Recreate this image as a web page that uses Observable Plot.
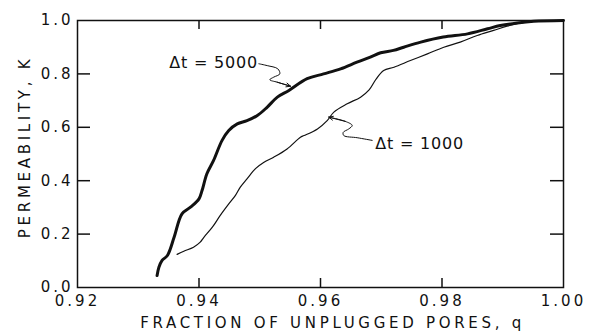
<!DOCTYPE html>
<html>
<head>
<meta charset="utf-8">
<script src="https://cdn.jsdelivr.net/npm/d3@7"></script>
<script src="https://cdn.jsdelivr.net/npm/@observablehq/plot@0.6"></script>
<style>
  html, body { margin: 0; padding: 0; background: #fff; }
  #chart svg { display: block; }
</style>
</head>
<body>
<div id="chart"></div>
<script>
// ---- Data ----
const xTicks = [0.92, 0.94, 0.96, 0.98, 1.00];
const yTicks = [0.0, 0.2, 0.4, 0.6, 0.8, 1.0];
const xTitle = "FRACTION OF UNPLUGGED PORES, q";
const yTitle = "PERMEABILITY, K";

// Δt = 5000 (thick)
const q5000 = [0.9331,0.9334,0.9339,0.9348,0.9359,0.9372,0.9386,0.9400,0.9405,0.9413,0.9424,0.9438,0.9449,0.9463,0.9479,0.9496,0.9512,0.9529,0.9548,0.9578,0.9605,0.9633,0.9660,0.9682,0.9699,0.9720,0.9737,0.9765,0.9802,0.9842,0.9875,0.9896,0.9924,0.9951,1.0];
const k5000 = [0.045,0.076,0.101,0.120,0.188,0.276,0.301,0.332,0.363,0.426,0.476,0.551,0.588,0.613,0.625,0.644,0.675,0.713,0.738,0.782,0.800,0.819,0.844,0.863,0.879,0.888,0.900,0.919,0.938,0.950,0.969,0.981,0.991,0.997,1.0];

// Δt = 1000 (thin)
const q1000 = [0.9364,0.9375,0.9391,0.9402,0.9408,0.9422,0.9435,0.9449,0.9460,0.9468,0.9479,0.9493,0.9507,0.9523,0.9545,0.9567,0.9573,0.9595,0.9611,0.9622,0.9644,0.9666,0.9680,0.9691,0.9704,0.9721,0.9748,0.9776,0.9803,0.9830,0.9858,0.9885,0.9907,0.9929,0.9951,1.0];
const k1000 = [0.124,0.136,0.151,0.170,0.188,0.226,0.270,0.313,0.345,0.376,0.407,0.445,0.469,0.488,0.519,0.563,0.569,0.594,0.625,0.657,0.688,0.713,0.740,0.779,0.813,0.825,0.850,0.875,0.900,0.919,0.944,0.963,0.979,0.991,0.997,1.0];

// Annotation labels and leader lines (data units)
const labels = ["Δt = 5000", "Δt = 1000"];
const labelQ = [0.9497, 0.9690];
const labelK = [0.843, 0.539];
const lead5000Q = [0.94985,0.95123,0.95297,0.95330,0.95231,0.95165,0.95287,0.95506];
const lead5000K = [0.838,0.831,0.819,0.800,0.788,0.778,0.769,0.754];
const lead1000Q = [0.96851,0.96604,0.96384,0.96374,0.96466,0.96522,0.96411,0.96137];
const lead1000K = [0.551,0.561,0.569,0.581,0.594,0.607,0.622,0.638];

// ---- Build tables ----
const s5000 = q5000.map((q, i) => ({q, k: k5000[i]}));
const s1000 = q1000.map((q, i) => ({q, k: k1000[i]}));
const lab5000 = [{t: labels[0], q: labelQ[0], k: labelK[0]}];
const lab1000 = [{t: labels[1], q: labelQ[1], k: labelK[1]}];
const l5000 = lead5000Q.map((q, i) => ({q, k: lead5000K[i]}));
const l1000 = lead1000Q.map((q, i) => ({q, k: lead1000K[i]}));
const lastSeg = (arr) => [{x1: arr[arr.length - 2].q, y1: arr[arr.length - 2].k, x2: arr[arr.length - 1].q, y2: arr[arr.length - 1].k}];

const W = 592, H = 331, mL = 77, mR = 29, mT = 20, mB = 44;
const fw = W - mL - mR, fh = H - mT - mB;
const xDomain = [0.92, 1.00], yDomain = [0, 1];
const font = "DejaVu Sans";
const ink = "#111";
const inner = (arr) => arr.slice(1, -1);
// tick lengths: pixels converted into data units of the opposite scale
const xTickLen = 9 / fh * (yDomain[1] - yDomain[0]);
const yTickLen = 13 / fw * (xDomain[1] - xDomain[0]);

const chart = Plot.plot({
  width: W,
  height: H,
  marginLeft: mL,
  marginRight: mR,
  marginTop: mT,
  marginBottom: mB,
  style: {fontFamily: font, fontSize: "15px", color: ink, background: "#fff", letterSpacing: "3px"},
  x: {domain: xDomain, ticks: xTicks, tickFormat: d => d.toFixed(2), tickSize: 0, tickPadding: 8, label: null},
  y: {domain: yDomain, ticks: yTicks, tickFormat: d => d.toFixed(1), tickSize: 0, tickPadding: 4, label: null},
  marks: [
    Plot.frame({stroke: ink, strokeWidth: 1.5}),
    // inward ticks on all four sides
    Plot.ruleX(inner(xTicks), {x: d => d, y1: yDomain[0], y2: yDomain[0] + xTickLen, stroke: ink, strokeWidth: 1.5}),
    Plot.ruleX(inner(xTicks), {x: d => d, y1: yDomain[1] - xTickLen, y2: yDomain[1], stroke: ink, strokeWidth: 1.5}),
    Plot.ruleY(inner(yTicks), {y: d => d, x1: xDomain[0], x2: xDomain[0] + yTickLen, stroke: ink, strokeWidth: 1.5}),
    Plot.ruleY(inner(yTicks), {y: d => d, x1: xDomain[1] - yTickLen, x2: xDomain[1], stroke: ink, strokeWidth: 1.5}),
    // axis titles
    Plot.text([xTitle], {text: d => d, frameAnchor: "bottom", textAnchor: "middle", dx: 12, dy: 36, fontSize: 15, lineAnchor: "middle", fill: ink}),
    Plot.text([yTitle], {text: d => d, frameAnchor: "left", textAnchor: "middle", rotate: -90, dx: -52, dy: -7, fontSize: 15, lineAnchor: "middle", fill: ink}),
    // curves
    Plot.line(s1000, {x: "q", y: "k", stroke: ink, strokeWidth: 1.2, curve: "catmull-rom"}),
    Plot.line(s5000, {x: "q", y: "k", stroke: ink, strokeWidth: 3, curve: "catmull-rom"}),
    // leaders
    Plot.line(l5000, {x: "q", y: "k", stroke: ink, strokeWidth: 1, curve: "catmull-rom"}),
    Plot.line(l1000, {x: "q", y: "k", stroke: ink, strokeWidth: 1, curve: "catmull-rom"}),
    Plot.arrow(lastSeg(l5000), {x1: "x1", y1: "y1", x2: "x2", y2: "y2", stroke: ink, strokeWidth: 1, headLength: 7, headAngle: 50}),
    Plot.arrow(lastSeg(l1000), {x1: "x1", y1: "y1", x2: "x2", y2: "y2", stroke: ink, strokeWidth: 1, headLength: 7, headAngle: 50}),
    // labels
    Plot.text(lab5000, {x: "q", y: "k", text: "t", textAnchor: "end", fontSize: 16, fill: ink, lineAnchor: "middle"}),
    Plot.text(lab1000, {x: "q", y: "k", text: "t", textAnchor: "start", fontSize: 16, fill: ink, lineAnchor: "middle"})
  ]
});
// letter spacing per text group (annotation labels tighter, axis titles wider)
d3.select(chart).selectAll("text")
  .filter(function () { return this.textContent.startsWith("Δt"); })
  .style("letter-spacing", "0.8px");
d3.select(chart).selectAll("text")
  .filter(function () { return this.textContent === xTitle || this.textContent === yTitle; })
  .style("letter-spacing", "3.7px");
document.getElementById("chart").appendChild(chart);
</script>
</body>
</html>
